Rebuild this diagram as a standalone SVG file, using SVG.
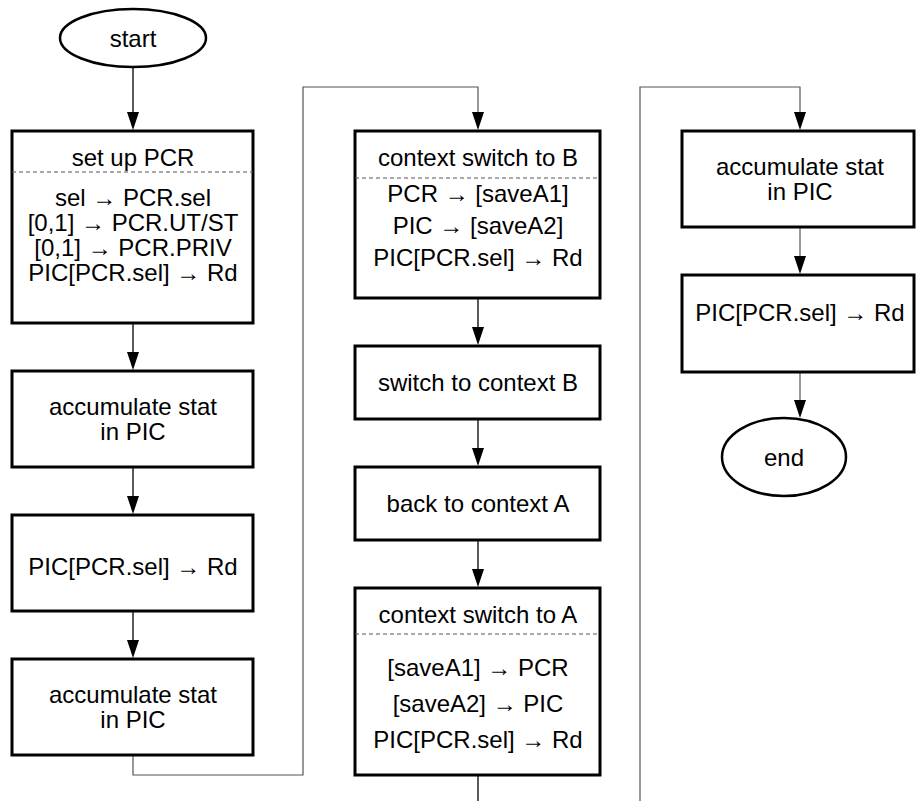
<svg xmlns="http://www.w3.org/2000/svg" width="916" height="801" viewBox="0 0 916 801">
<defs>
<path id="ah" d="M0,0 L-6,-18 L6,-18 Z" fill="#000"/>
<style>
.box{fill:#fff;stroke:#000;stroke-width:3}
.ov{fill:#fff;stroke:#000;stroke-width:2.5}
.sep{stroke:#555;stroke-width:1;stroke-dasharray:4 3}
.t{font-family:"Liberation Sans",Arial,sans-serif;font-size:24px;fill:#000;text-anchor:middle;dominant-baseline:central}
.e{fill:none;stroke:#000;stroke-width:1.3}
.l{fill:none;stroke:#555;stroke-width:1.2}
</style>
</defs>
<rect width="916" height="801" fill="#fff"/>
<g id="connectors">
<line class="e" x1="133" y1="67" x2="133" y2="120"/>
<use href="#ah" x="133" y="130"/>
<line class="e" x1="133" y1="323" x2="133" y2="360"/>
<use href="#ah" x="133" y="370"/>
<line class="e" x1="133" y1="467" x2="133" y2="504"/>
<use href="#ah" x="133" y="514"/>
<line class="e" x1="133" y1="611" x2="133" y2="648"/>
<use href="#ah" x="133" y="658"/>
<path class="l" d="M133,755 V775 H303 V87 H478 V120"/>
<use href="#ah" x="478" y="130"/>
<line class="e" x1="478" y1="298" x2="478" y2="335"/>
<use href="#ah" x="478" y="345"/>
<line class="e" x1="478" y1="419" x2="478" y2="456"/>
<use href="#ah" x="478" y="466"/>
<line class="e" x1="478" y1="540" x2="478" y2="577"/>
<use href="#ah" x="478" y="587"/>
<line class="e" x1="478" y1="775" x2="478" y2="801"/>
<path class="l" d="M640,801 V87 H800 V120"/>
<use href="#ah" x="800" y="130"/>
<line class="l" x1="800" y1="227" x2="800" y2="264"/>
<use href="#ah" x="800" y="274"/>
<line class="l" x1="800" y1="372" x2="800" y2="408"/>
<use href="#ah" x="800" y="418"/>
</g>
<g id="start">
<ellipse class="ov" cx="133" cy="38" rx="73" ry="29"/>
<text class="t" x="133" y="38">start</text>
</g>
<g id="setup">
<rect class="box" x="12" y="131" width="241" height="192"/>
<text class="t" x="133" y="157">set up PCR</text>
<line class="sep" x1="12" y1="172" x2="253" y2="172"/>
<text class="t" x="133" y="197">sel → PCR.sel</text>
<text class="t" x="133" y="222">[0,1] → PCR.UT/ST</text>
<text class="t" x="133" y="247">[0,1] → PCR.PRIV</text>
<text class="t" x="133" y="272">PIC[PCR.sel] → Rd</text>
</g>
<g id="acc1">
<rect class="box" x="12" y="371" width="241" height="96"/>
<text class="t" x="133" y="406">accumulate stat</text>
<text class="t" x="133" y="431">in PIC</text>
</g>
<g id="read1">
<rect class="box" x="12" y="515" width="241" height="96"/>
<text class="t" x="133" y="566">PIC[PCR.sel] → Rd</text>
</g>
<g id="acc2">
<rect class="box" x="12" y="659" width="241" height="96"/>
<text class="t" x="133" y="694">accumulate stat</text>
<text class="t" x="133" y="719">in PIC</text>
</g>
<g id="csB">
<rect class="box" x="355" y="131" width="245" height="167"/>
<text class="t" x="478" y="157">context switch to B</text>
<line class="sep" x1="355" y1="178" x2="600" y2="178"/>
<text class="t" x="478" y="193">PCR → [saveA1]</text>
<text class="t" x="478" y="225">PIC → [saveA2]</text>
<text class="t" x="478" y="257">PIC[PCR.sel] → Rd</text>
</g>
<g id="swB">
<rect class="box" x="355" y="346" width="245" height="73"/>
<text class="t" x="478" y="382">switch to context B</text>
</g>
<g id="backA">
<rect class="box" x="355" y="467" width="245" height="73"/>
<text class="t" x="478" y="503">back to context A</text>
</g>
<g id="csA">
<rect class="box" x="355" y="588" width="245" height="187"/>
<text class="t" x="478" y="614">context switch to A</text>
<line class="sep" x1="355" y1="634" x2="600" y2="634"/>
<text class="t" x="478" y="667">[saveA1] → PCR</text>
<text class="t" x="478" y="703">[saveA2] → PIC</text>
<text class="t" x="478" y="739">PIC[PCR.sel] → Rd</text>
</g>
<g id="acc3">
<rect class="box" x="682" y="131" width="232" height="96"/>
<text class="t" x="800" y="166">accumulate stat</text>
<text class="t" x="800" y="191">in PIC</text>
</g>
<g id="read3">
<rect class="box" x="682" y="275" width="232" height="97"/>
<text class="t" x="800" y="312">PIC[PCR.sel] → Rd</text>
</g>
<g id="end">
<ellipse class="ov" cx="784" cy="457" rx="62" ry="39"/>
<text class="t" x="784" y="457">end</text>
</g>
</svg>
